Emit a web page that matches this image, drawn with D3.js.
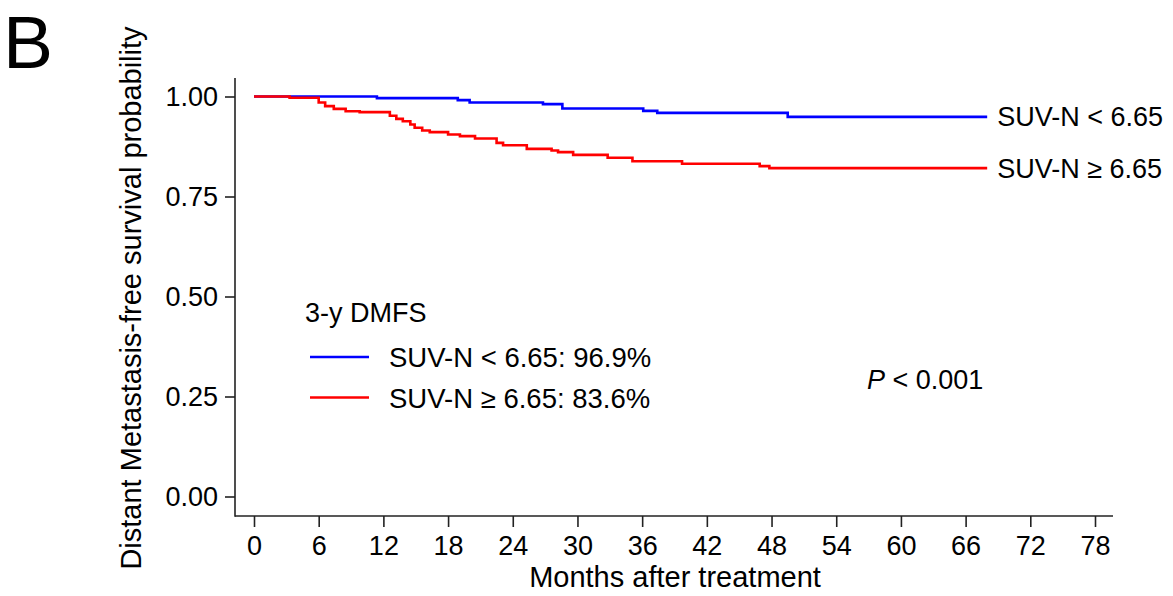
<!DOCTYPE html>
<html>
<head>
<meta charset="utf-8">
<script src="https://cdn.jsdelivr.net/npm/d3@7"></script>
<style>
  body { margin: 0; background: #fff; }
  svg text { font-family: 'Liberation Sans', Arial, Helvetica, sans-serif; fill: #000; }
</style>
</head>
<body>
<div id="chart"></div>
<script>
// Kaplan-Meier steps: [month, survival]
const lowMonths = [0, 11.4, 18.9, 20.0, 26.8, 28.6, 36.1, 37.4, 49.5, 68];
const lowSurv   = [1.000, 0.996, 0.991, 0.985, 0.981, 0.970, 0.964, 0.959, 0.949, 0.949];

const highMonths = [0, 3.3, 6.0, 6.6, 7.4, 8.5, 9.8, 12.6, 13.2, 13.8, 14.5, 14.9, 15.6, 16.3,
                    18.0, 19.1, 20.5, 22.5, 23.1, 25.3, 27.6, 28.2, 29.6, 32.8, 35.1, 39.7, 46.9, 47.8, 68];
const highSurv   = [1.000, 0.997, 0.985, 0.976, 0.969, 0.963, 0.961, 0.952, 0.944, 0.938, 0.930, 0.922, 0.915, 0.911,
                    0.905, 0.901, 0.895, 0.884, 0.878, 0.869, 0.865, 0.861, 0.854, 0.847, 0.838, 0.832, 0.826, 0.821, 0.821];

const xTicks = [0, 6, 12, 18, 24, 30, 36, 42, 48, 54, 60, 66, 72, 78];
const yTicks = [0, 0.25, 0.5, 0.75, 1];

const groupNames  = ['SUV-N < 6.65', 'SUV-N \u2265 6.65'];
const legendRates = ['96.9%', '83.6%'];
const groupColors = ['#0000ff', '#ff0000'];

const w = 1173, h = 596;

const svg = d3.select('#chart')
  .append('svg')
  .attr('width', w)
  .attr('height', h);

// scales
const xScale = d3.scaleLinear().domain([0, 78]).range([254, 1095]);
const yScale = d3.scaleLinear().domain([0, 1]).range([496.5, 96.5]);

const axisColor = '#222';

// axes
const xAxis = d3.axisBottom(xScale)
  .tickValues(xTicks)
  .tickSize(11)
  .tickPadding(9)
  .tickFormat(d3.format('d'));
const gx = svg.append('g')
  .attr('transform', 'translate(0,516)')
  .call(xAxis);
gx.select('.domain').remove();
gx.append('line')
  .attr('x1', 235).attr('x2', 1113)
  .attr('stroke', axisColor).attr('stroke-width', 1.6);
gx.selectAll('.tick line').attr('stroke', axisColor).attr('stroke-width', 1.6);
gx.selectAll('.tick text').style('font-size', '27px').attr('fill', '#000');

const yAxis = d3.axisLeft(yScale)
  .tickValues(yTicks)
  .tickSize(10)
  .tickPadding(7)
  .tickFormat(d3.format('.2f'));
const gy = svg.append('g')
  .attr('transform', 'translate(235,0)')
  .call(yAxis);
gy.select('.domain').remove();
gy.append('line')
  .attr('y1', 78).attr('y2', 516.8)
  .attr('stroke', axisColor).attr('stroke-width', 1.6);
gy.selectAll('.tick line').attr('stroke', axisColor).attr('stroke-width', 1.6);
gy.selectAll('.tick text').style('font-size', '27px').attr('fill', '#000');

// curves
const stepLine = d3.line()
  .x(d => xScale(d[0]))
  .y(d => yScale(d[1]))
  .curve(d3.curveStepAfter);

const series = [
  d3.zip(lowMonths, lowSurv),
  d3.zip(highMonths, highSurv)
];

svg.selectAll('.km')
  .data(series)
  .enter()
  .append('path')
  .attr('class', 'km')
  .attr('d', d => stepLine(d))
  .attr('fill', 'none')
  .attr('stroke', (d, i) => groupColors[i])
  .attr('stroke-width', 2.6);

// labels at the curve ends
svg.selectAll('.end-label')
  .data(series)
  .enter()
  .append('text')
  .attr('class', 'end-label')
  .attr('x', d => xScale(d[d.length - 1][0]) + 10)
  .attr('y', d => yScale(d[d.length - 1][1]))
  .attr('dy', '0.35em')
  .style('font-size', '27px')
  .text((d, i) => groupNames[i]);

// legend
svg.append('text')
  .attr('x', 305)
  .attr('y', 322)
  .style('font-size', '27px')
  .text('3-y DMFS');

const legend = svg.selectAll('.legend')
  .data(groupNames)
  .enter()
  .append('g')
  .attr('class', 'legend')
  .attr('transform', (d, i) => 'translate(0,' + (357 + i * 40.5) + ')');
legend.append('line')
  .attr('x1', 310).attr('x2', 369)
  .attr('stroke', (d, i) => groupColors[i])
  .attr('stroke-width', 2.6);
legend.append('text')
  .attr('x', 389)
  .attr('y', 10)
  .style('font-size', '27.5px')
  .text((d, i) => d + ': ' + legendRates[i]);

// p value
const ptext = svg.append('text')
  .attr('x', 867)
  .attr('y', 389)
  .style('font-size', '27px');
ptext.append('tspan').style('font-style', 'italic').text('P');
ptext.append('tspan').text(' < 0.001');

// axis titles
svg.append('text')
  .attr('x', 675)
  .attr('y', 587)
  .attr('text-anchor', 'middle')
  .style('font-size', '29px')
  .text('Months after treatment');

svg.append('text')
  .attr('transform', 'rotate(-90)')
  .attr('x', -298)
  .attr('y', 141)
  .attr('text-anchor', 'middle')
  .style('font-size', '29px')
  .text('Distant Metastasis-free survival probability');

// panel letter
svg.append('text')
  .attr('x', 3)
  .attr('y', 68)
  .style('font-size', '75px')
  .text('B');
</script>
</body>
</html>
